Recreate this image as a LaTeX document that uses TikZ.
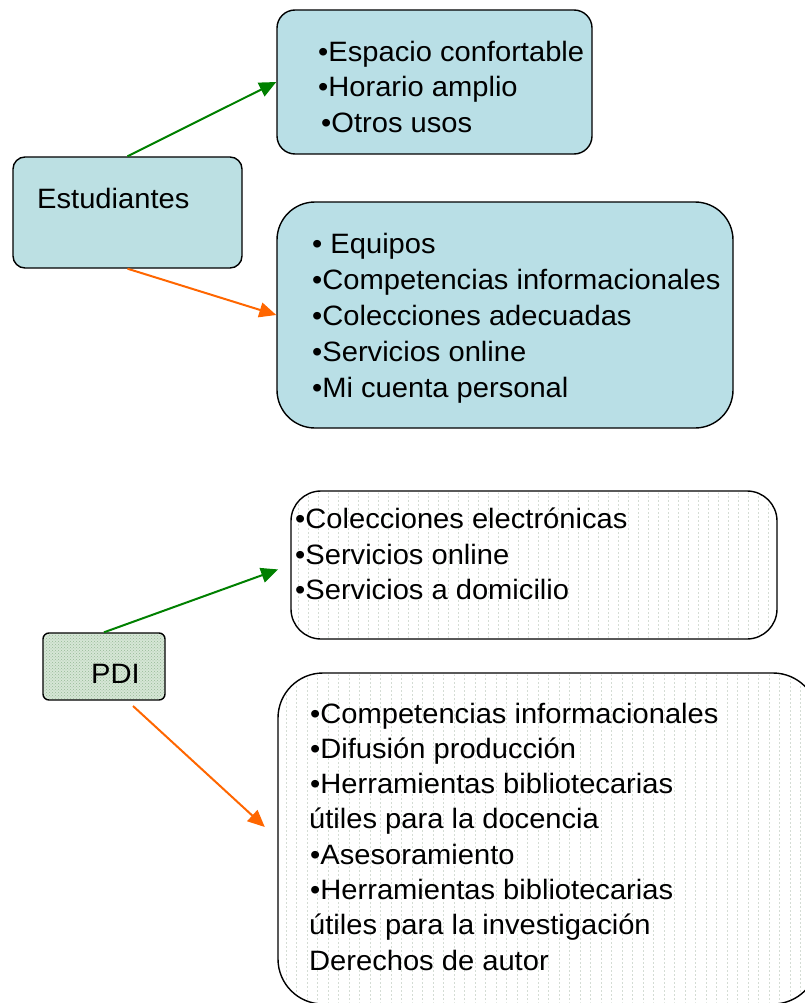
\documentclass[tikz,border=0pt]{standalone}
\usepackage{fontspec}
\setmainfont{Liberation Sans}[FakeStretch=1.04]
\usetikzlibrary{arrows.meta,patterns}
\definecolor{boxblue}{RGB}{185,223,230}
\definecolor{estblue}{RGB}{188,224,227}
\definecolor{arrgreen}{RGB}{0,128,0}
\definecolor{arrorange}{RGB}{255,102,0}
\definecolor{pdigreen}{RGB}{214,230,214}
\definecolor{pdidot}{RGB}{150,185,150}
\definecolor{dotgray}{RGB}{212,220,212}
\begin{document}
\begin{tikzpicture}[x=1pt,y=-1pt,
  box/.style={draw=black, line width=1.4pt, rectangle, inner sep=0pt},
  txt/.style={anchor=base west, inner sep=0pt, font=\fontsize{28}{34}\selectfont},
  conn/.style={line width=2pt, -{Triangle[length=17pt,width=15pt]}},
  dots/.style={dotgray, line width=0.7pt, dash pattern=on 1.5pt off 2.5pt}
]
\useasboundingbox (0,0) rectangle (805,1003);
\begin{scope}
\clip (0,0) rectangle (805,1003);
% boxes
\node[box, fill=boxblue, rounded corners=18pt, minimum width=315pt, minimum height=144pt] (box1) at (434.5,82) {};
\node[box, fill=estblue, rounded corners=12pt, minimum width=229pt, minimum height=111pt] (est) at (127.5,212.5) {};
\node[box, fill=boxblue, rounded corners=38pt, minimum width=456pt, minimum height=226pt] (box2) at (505,315) {};
\node[box, fill=white, rounded corners=30pt, minimum width=486pt, minimum height=148pt] (box3) at (534,565) {};
\node[box, fill=white, rounded corners=45pt, minimum width=540pt, minimum height=331pt] (box4) at (548,838.5) {};
\node[box, fill=pdigreen, rounded corners=6pt, minimum width=122pt, minimum height=67pt] (pdi) at (104,666.5) {};
% faint textures
\begin{scope}
\clip[rounded corners=6pt] (44.5,634.5) rectangle (163.5,698.5);
\fill[pattern=crosshatch dots, pattern color=pdidot] (44,634) rectangle (164,699);
\end{scope}
\begin{scope}
\clip[rounded corners=29pt] (292.5,492.5) rectangle (775.5,637.5);
\foreach \x in {298,308,...,776} \draw[dots] (\x,492) -- (\x,638);
\end{scope}
\begin{scope}
\clip[rounded corners=44pt] (279.5,674.5) rectangle (816.5,1002.5);
\foreach \x in {286,296.5,...,816} \draw[dots] (\x,674) -- (\x,1003);
\end{scope}
% texts
\node[txt] (t11) at (318,62) {•Espacio confortable};
\node[txt] (t12) at (318,97) {•Horario amplio};
\node[txt] (t13) at (321,133) {•Otros usos};
\node[txt] (test) at (37,208) {Estudiantes};
\node[txt] (t21) at (312,253) {• Equipos};
\node[txt] (t22) at (312,289.5) {•Competencias informacionales};
\node[txt] (t23) at (312,325.5) {•Colecciones adecuadas};
\node[txt] (t24) at (312,361.5) {•Servicios online};
\node[txt] (t25) at (312,397.5) {•Mi cuenta personal};
\node[txt] (t31) at (295,528) {•Colecciones electrónicas};
\node[txt] (t32) at (295,564) {•Servicios online};
\node[txt] (t33) at (295,599) {•Servicios a domicilio};
\node[txt] (tpdi) at (91,683) {PDI};
\node[txt] (t41) at (310,723) {•Competencias informacionales};
\node[txt] (t42) at (310,758.3) {•Difusión producción};
\node[txt] (t43) at (310,793.6) {•Herramientas bibliotecarias};
\node[txt] (t44) at (309,828.9) {útiles para la docencia};
\node[txt] (t45) at (310,864.2) {•Asesoramiento};
\node[txt] (t46) at (310,899.5) {•Herramientas bibliotecarias};
\node[txt] (t47) at (309,934.8) {útiles para la investigación};
\node[txt] (t48) at (309,970.1) {Derechos de autor};
% connectors
\coordinate (o2s) at (133,706);
\draw[conn, arrgreen] (est.north) -- (box1.west);
\draw[conn, arrorange] (est.south) -- (box2.west);
\draw[conn, arrgreen, shorten >=13pt] (pdi.north) -- (box3.west);
\draw[conn, arrorange, shorten >=17pt] (o2s) -- (box4.west);
\end{scope}
\end{tikzpicture}
\end{document}
